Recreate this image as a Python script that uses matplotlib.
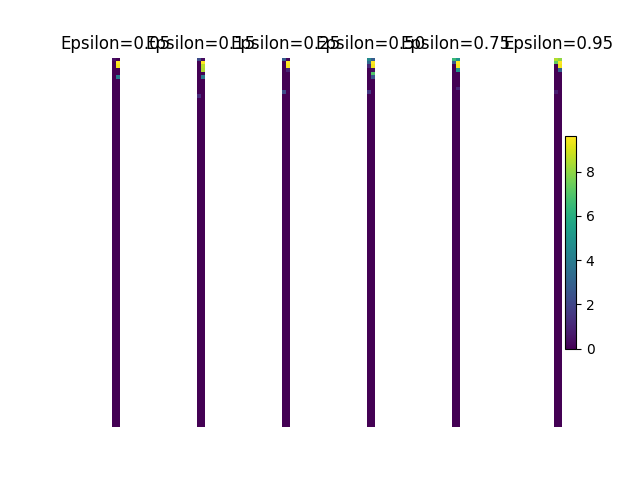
import numpy as np
import matplotlib
matplotlib.use("Agg")
import matplotlib.pyplot as plt

# valeurs epsilon testées
epsilons = [0.05, 0.15, 0.25, 0.50, 0.75, 0.95]
n_etats = 100  # nombre d'états (lignes)

# lignes du haut de chaque table Q [action 0, action 1], le reste vaut 0
haut_005 = [[0.4, 0.0], [0.0, 9.6], [0.0, 9.4], [0.0, 0.0], [0.0, 0.0], [0.0, 4.0]]
haut_015 = [[2.2, 0.3], [0.0, 9.6], [0.0, 8.6], [0.0, 8.4], [0.0, 0.0], [0.0, 3.8],
            [0.0, 0.0], [0.0, 0.0], [0.0, 0.0], [0.0, 0.0], [1.2, 0.0]]
haut_025 = [[2.8, 0.2], [0.0, 9.6], [0.0, 9.5], [0.0, 1.0], [0.0, 0.0], [0.0, 0.0],
            [0.0, 0.0], [0.0, 0.0], [0.0, 0.0], [2.2, 0.0]]
haut_050 = [[4.5, 2.8], [3.2, 9.6], [1.0, 9.4], [0.0, 0.3], [0.0, 7.0], [0.0, 2.5],
            [0.0, 0.0], [0.0, 0.0], [0.0, 0.0], [1.6, 0.0]]
haut_075 = [[6.5, 5.0], [2.8, 9.6], [0.0, 9.5], [0.0, 5.0], [0.0, 0.0], [0.0, 0.0],
            [0.0, 0.0], [0.0, 0.0], [0.0, 1.0]]
haut_095 = [[8.5, 8.0], [7.3, 9.6], [0.0, 9.4], [0.0, 3.0], [0.0, 0.0], [0.0, 0.0],
            [0.0, 0.0], [0.0, 0.0], [0.0, 0.0], [0.8, 0.0]]

hauts = [haut_005, haut_015, haut_025, haut_050, haut_075, haut_095]


def construire_table(haut):
    # table Q complète : lignes observées puis des zéros
    table = np.zeros((n_etats, 2))
    table[:len(haut)] = haut
    return table


fig, axes = plt.subplots(1, len(epsilons), figsize=(6.4, 4.8))

for ax, eps, haut in zip(axes, epsilons, hauts):
    im = ax.imshow(construire_table(haut), cmap='viridis')
    ax.set_title(f"Epsilon={eps:.2f}")
    ax.axis('off')

plt.colorbar(im)
plt.savefig("out.png")
